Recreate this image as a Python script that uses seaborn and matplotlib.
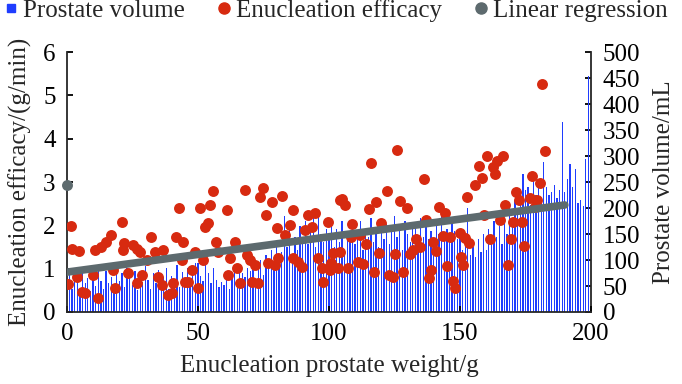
import matplotlib
matplotlib.use('Agg')
import matplotlib.pyplot as plt
from matplotlib.lines import Line2D
import seaborn as sns

# ------------------------------------------------------------
# Data
# ------------------------------------------------------------
weight_bins = list(range(200))
prostate_volume = [
    90, 85, 45, 60, 80, 35, 75, 55, 65, 40,
    72, 50, 88, 60, 45, 78, 55, 68, 40, 82,
    60, 75, 48, 85, 65, 52, 78, 42, 70, 58,
    88, 62, 45, 75, 55, 80, 50, 67, 85, 45,
    70, 58, 90, 48, 76, 62, 85, 55, 72, 95,
    95, 70, 60, 98, 75, 55, 85, 62, 48, 58,
    52, 65, 45, 70, 88, 60, 92, 75, 68, 85,
    78, 95, 65, 88, 100, 72, 110, 85, 120, 95,
    130, 105, 115, 185, 125, 160, 110, 145, 120, 165,
    140, 175, 130, 155, 185, 125, 190, 150, 135, 160,
    145, 170, 125, 160, 135, 175, 120, 150, 140, 165,
    130, 155, 175, 120, 160, 145, 180, 135, 150, 125,
    165, 140, 170, 130, 155, 185, 145, 160, 120, 175,
    150, 135, 170, 160, 125, 180, 145, 165, 140, 155,
    130, 170, 150, 185, 145, 160, 135, 175, 155, 140,
    145, 120, 130, 200, 110, 125, 105, 140, 115, 150,
    120, 160, 135, 175, 145, 165, 130, 180, 150, 200,
    175, 215, 190, 230, 265, 235, 240, 205, 270, 225,
    250, 215, 288, 240, 225, 230, 245, 220, 235, 365,
    230, 255, 284, 240, 275, 210, 216, 203, 295, 454,
]

efficacy_x = [
    0.4, 1.5, 1.9, 4.6, 5.7, 6.9, 3.8, 10.7, 11.8, 10.0,
    13.2, 15.0, 16.8, 18.3, 17.7, 21.0, 21.5, 22.0, 23.5, 25.4,
    26.8, 27.9, 28.6, 30.4, 32.3, 33.6, 34.9, 36.2, 36.8, 38.6,
    40.0, 40.6, 41.8, 42.8, 43.8, 44.4, 46.3, 47.6, 48.8, 50.0,
    50.8, 52.0, 52.7, 53.9, 54.6, 55.7, 56.9, 57.7, 61.0, 62.2,
    61.6, 64.1, 64.9, 66.0, 67.9, 68.7, 69.8, 70.6, 71.8, 72.9,
    73.7, 74.8, 75.9, 76.7, 78.2, 79.4, 80.1, 80.5, 82.0, 83.2,
    85.1, 86.3, 86.3, 88.2, 89.7, 90.8, 92.0, 93.5, 94.7, 95.8,
    97.3, 97.7, 99.6, 100.4, 101.5, 103.4, 104.2, 26.7, 45.0,
    126.0, 116.0, 136.3, 122.1, 105.0, 106.0, 117.9, 115.3, 127.1, 129.8,
    142.0, 144.3, 108.8, 119.8, 137.0, 152.7, 150.0, 152.0, 143.5, 146.2,
    139.7, 133.2, 134.8, 132.0, 130.9, 140.8, 125.2, 119.1, 114.1, 111.8,
    108.4, 104.2, 100.8, 107.3, 111.1, 112.9, 117.1, 122.9, 124.4, 128.2,
    138.9, 138.2, 145.0, 147.3, 148.1, 150.4, 151.1,
    181.3, 182.4, 160.3, 166.4, 157.3, 162.6, 164.1, 163.4, 158.4, 155.7,
    177.5, 180.5, 171.4, 172.5, 176.7, 179.4, 178.6, 167.2, 159.2, 165.3,
    170.2, 173.7, 153.4, 161.4, 169.5, 174.4, 168.3,
]
efficacy_y = [
    0.65, 1.99, 1.45, 1.41, 0.46, 0.44, 0.81, 1.43, 0.32, 0.85,
    1.50, 1.62, 1.78, 0.55, 0.97, 2.08, 1.43, 1.60, 0.90, 1.55,
    0.67, 1.38, 0.85, 1.20, 1.73, 1.38, 0.81, 0.62, 1.43, 0.39,
    0.44, 0.67, 1.73, 2.40, 1.20, 1.62, 0.69, 0.97, 1.38, 0.55,
    2.40, 1.20, 1.96, 2.05, 2.47, 2.79, 1.62, 1.38, 2.36, 1.25,
    0.85, 1.62, 1.02, 0.67, 2.82, 1.32, 1.20, 0.69, 1.09, 0.67,
    2.66, 2.86, 2.24, 1.13, 2.54, 1.09, 1.94, 1.25, 2.68, 1.78,
    2.01, 2.36, 1.25, 1.16, 1.04, 1.89, 2.24, 1.96, 2.29, 1.25,
    1.02, 0.69, 2.08, 0.97, 1.36, 1.02, 2.59, 1.45, 0.69,
    3.74, 3.44, 3.07, 2.79, 2.61, 2.47, 2.54, 2.38, 2.56, 2.40,
    2.42, 2.29, 2.03, 2.06, 2.12, 2.66, 1.82, 1.71, 1.75, 1.73,
    1.62, 1.69, 1.50, 1.43, 1.34, 1.41, 1.34, 1.36, 1.57, 1.78,
    1.73, 1.39, 1.13, 1.02, 1.15, 1.11, 0.92, 0.85, 0.81, 0.92,
    0.97, 0.79, 1.06, 0.72, 0.55, 1.27, 1.09,
    5.27, 3.72, 3.60, 3.60, 3.37, 3.35, 3.49, 3.19, 3.09, 2.93,
    3.14, 2.98, 2.77, 2.59, 2.63, 2.59, 2.42, 2.47, 2.24, 2.12,
    2.08, 2.08, 1.59, 1.69, 1.69, 1.52, 1.09,
]

regression_x = [0, 190]
regression_y = [0.92, 2.47]
regression_point_x = [0]
regression_point_y = [2.93]

BLUE = '#1f3dff'
RED = '#d72a10'
GRAY = '#5d6a6e'

# ------------------------------------------------------------
# Style
# ------------------------------------------------------------
sns.set_theme(style="ticks")
plt.rcParams['font.family'] = ['Liberation Serif', 'DejaVu Serif']
plt.rcParams['axes.linewidth'] = 1.3

fig = plt.figure(figsize=(6.82, 3.84), dpi=100)
ax = fig.add_axes([0.098, 0.1875, 0.7686, 0.677])
ax2 = ax.twinx()

# Bars on the right axis (behind)
sns.barplot(x=weight_bins, y=prostate_volume, native_scale=True, color=BLUE,
            saturation=1, width=0.5, errorbar=None, linewidth=0, ax=ax2)

# Scatter and regression on the left axis (front)
sns.scatterplot(x=efficacy_x, y=efficacy_y, color=RED, s=62, linewidth=0,
                ax=ax, zorder=3)
sns.lineplot(x=regression_x, y=regression_y, color=GRAY, linewidth=5.5,
             solid_capstyle='round', ax=ax, zorder=4)
sns.scatterplot(x=regression_point_x, y=regression_point_y, color=GRAY, s=62,
                linewidth=0, ax=ax, zorder=5, clip_on=False)

ax.set_zorder(ax2.get_zorder() + 1)
ax.patch.set_visible(False)

ax.set_xlim(0, 200)
ax.set_ylim(0, 6)
ax2.set_ylim(0, 500)
ax.set_xticks([0, 50, 100, 150, 200])
ax.set_yticks(range(0, 7))
ax2.set_yticks(range(0, 501, 50))

for a in (ax, ax2):
    a.tick_params(direction='in', length=4, width=1.3, labelsize=18,
                  colors='black')
    a.spines['top'].set_visible(False)
ax.tick_params(axis='y', pad=8)
ax.tick_params(axis='x', pad=8)
ax2.tick_params(axis='y', pad=8.5)
ax.spines['right'].set_visible(False)
ax2.spines['left'].set_visible(False)
ax2.spines['bottom'].set_visible(False)
ax2.set_xlabel('')

ax.set_xlabel('Enucleation prostate weight/g', fontsize=18, labelpad=7)
ax.set_ylabel('Enucleation efficacy/(g/min)', fontsize=18, labelpad=8)
ax2.set_ylabel('Prostate volume/mL', fontsize=18, labelpad=9)

handles = [
    Line2D([], [], marker='s', linestyle='none', color=BLUE, markersize=6),
    Line2D([], [], marker='o', linestyle='none', color=RED, markersize=8),
    Line2D([], [], marker='o', linestyle='none', color=GRAY, markersize=8),
]
labels = ['Prostate volume', 'Enucleation efficacy', 'Linear regression']
fig.legend(handles, labels, loc='upper left', bbox_to_anchor=(-0.012, 1.035),
           ncol=3, frameon=False, fontsize=18, handletextpad=0.25,
           columnspacing=1.3, handlelength=0.5, borderaxespad=0.1)

fig.savefig('out.png', dpi=100)
plt.close(fig)
